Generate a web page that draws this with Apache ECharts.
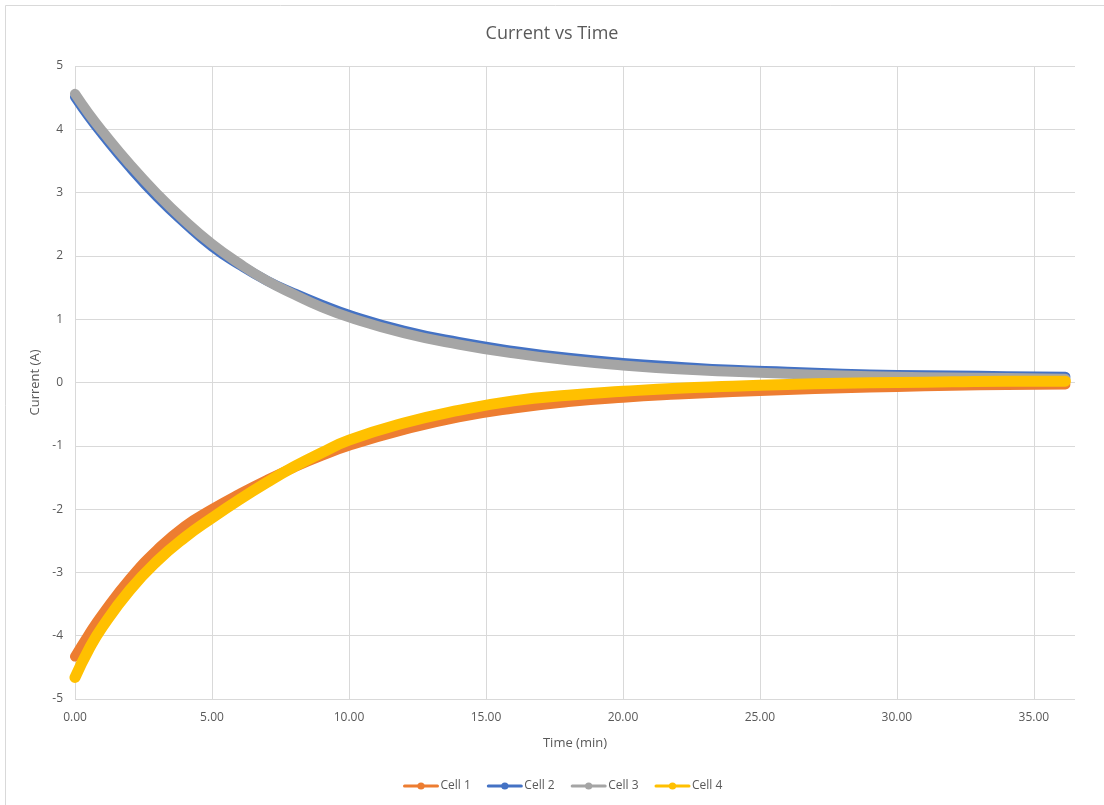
<!DOCTYPE html>
<html>
<head>
<meta charset="utf-8">
<title>Current vs Time</title>
<script src="https://cdn.jsdelivr.net/npm/echarts@6/dist/echarts.min.js"></script>
<style>
  html, body { margin: 0; padding: 0; background: #ffffff; }
  #chart { width: 1104px; height: 805px; }
</style>
</head>
<body>
<div id="chart"></div>
<script>
// Sample times (min)
const timeMin = [0, 0.5, 1, 2, 3, 4, 5, 6, 7, 8, 9, 10, 12, 14, 16, 18, 20, 22, 24, 26, 28, 30, 32, 34, 36.15];

// Measured current per cell (A)
const cell1 = [-4.33, -3.98, -3.66, -3.10, -2.64, -2.27, -2.00, -1.76, -1.54, -1.34, -1.16, -1.00, -0.75, -0.55, -0.41, -0.31, -0.24, -0.19, -0.15, -0.12, -0.09, -0.07, -0.05, -0.04, -0.03];
const cell2 = [4.51, 4.20, 3.92, 3.40, 2.93, 2.52, 2.15, 1.86, 1.61, 1.41, 1.23, 1.07, 0.82, 0.64, 0.50, 0.39, 0.31, 0.25, 0.20, 0.17, 0.14, 0.12, 0.11, 0.10, 0.09];
const cell3 = [4.56, 4.25, 3.97, 3.45, 2.98, 2.56, 2.19, 1.88, 1.61, 1.39, 1.19, 1.03, 0.78, 0.60, 0.46, 0.35, 0.27, 0.21, 0.17, 0.14, 0.11, 0.09, 0.08, 0.07, 0.06];
const cell4 = [-4.66, -4.22, -3.86, -3.28, -2.82, -2.45, -2.14, -1.85, -1.58, -1.33, -1.11, -0.91, -0.64, -0.44, -0.29, -0.20, -0.14, -0.09, -0.06, -0.03, -0.01, 0.00, 0.01, 0.02, 0.02];

const seriesNames = ['Cell 1', 'Cell 2', 'Cell 3', 'Cell 4'];
const seriesColors = ['#ED7D31', '#4472C4', '#A5A5A5', '#FFC000'];
const seriesValues = [cell1, cell2, cell3, cell4];
const seriesWidths = [10, 10, 10, 11];

const FONT = '"Open Sans", "Noto Sans", sans-serif';
const TEXT = '#595959';
const GRID = '#D9D9D9';

const chart = echarts.init(document.getElementById('chart'), null, { renderer: 'canvas' });

const series = seriesNames.map((name, i) => ({
  name: name,
  type: 'line',
  data: timeMin.map((t, k) => [t, seriesValues[i][k]]),
  smooth: 0.5,
  symbol: 'circle',
  symbolSize: 9,
  showSymbol: false,
  color: seriesColors[i],
  lineStyle: { color: seriesColors[i], width: seriesWidths[i], cap: 'round', join: 'round' },
  emphasis: { disabled: true },
  animation: false
}));

chart.setOption({
  backgroundColor: '#ffffff',
  animation: false,
  graphic: [{
    type: 'rect',
    shape: { x: 5.5, y: 5.5, width: 1110, height: 810 },
    style: { fill: 'none', stroke: GRID, lineWidth: 1 },
    silent: true,
    z: -10
  }],
  title: {
    text: 'Current vs Time',
    left: 'center',
    top: 20,
    textStyle: { fontFamily: FONT, fontSize: 18, fontWeight: 'normal', color: TEXT }
  },
  grid: { left: 75, right: 29, top: 66, bottom: 106, containLabel: false },
  xAxis: {
    type: 'value',
    min: 0,
    max: 36.5,
    interval: 5,
    name: 'Time (min)',
    nameLocation: 'middle',
    nameGap: 38,
    nameTextStyle: { fontFamily: FONT, fontSize: 13, color: TEXT },
    axisLine: { show: false, onZero: false },
    axisTick: { show: false },
    axisLabel: {
      fontFamily: FONT, fontSize: 12, color: TEXT, margin: 13,
      showMaxLabel: false,
      formatter: v => v.toFixed(2)
    },
    splitLine: { show: true, showMaxLine: false, lineStyle: { color: GRID, width: 1 } }
  },
  yAxis: {
    type: 'value',
    min: -5,
    max: 5,
    interval: 1,
    name: 'Current (A)',
    nameLocation: 'middle',
    nameGap: 28,
    nameRotate: 90,
    nameTextStyle: { fontFamily: FONT, fontSize: 13, color: TEXT },
    axisLine: { show: false, onZero: false },
    axisTick: { show: false },
    axisLabel: { fontFamily: FONT, fontSize: 12, color: TEXT, margin: 12 },
    splitLine: { show: true, lineStyle: { color: GRID, width: 1 } }
  },
  legend: {
    data: seriesNames,
    left: 398,
    top: 775,
    itemWidth: 33,
    itemHeight: 9,
    itemGap: 16,
    lineStyle: { width: 3 },
    textStyle: { fontFamily: FONT, fontSize: 12, color: TEXT, padding: [0, 0, 0, -2] }
  },
  series: series
});
</script>
</body>
</html>
